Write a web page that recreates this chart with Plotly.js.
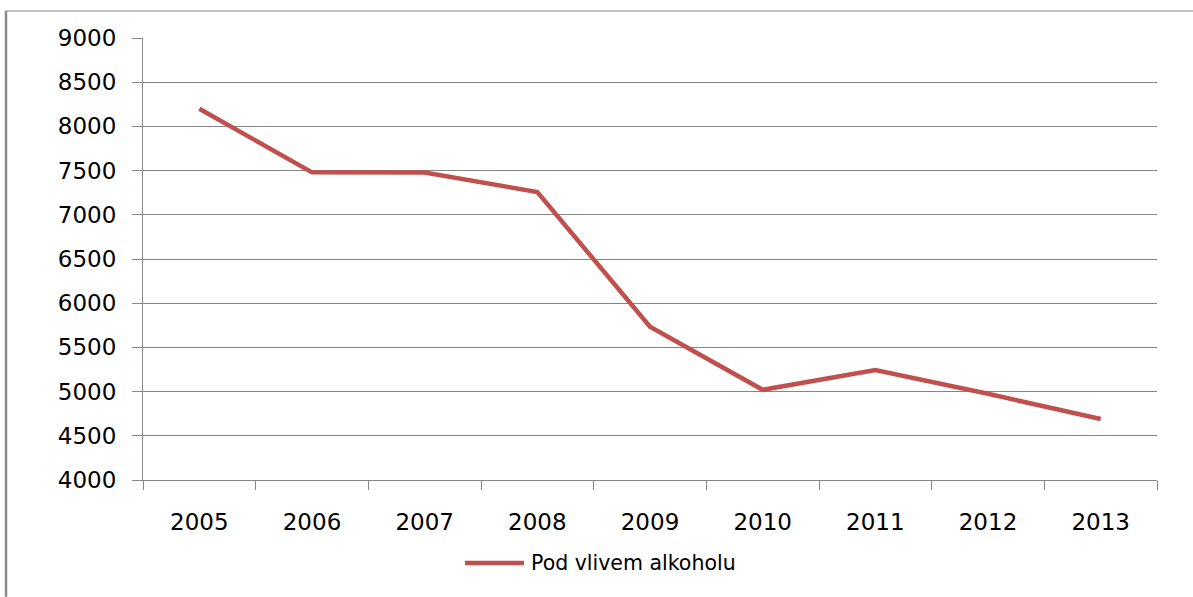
<!DOCTYPE html>
<html>
<head>
<meta charset="utf-8">
<script src="https://cdn.plot.ly/plotly-3.0.1.min.js"></script>
<style>
  html, body { margin: 0; padding: 0; background: #fff; }
  #chart { width: 1193px; height: 597px; }
</style>
</head>
<body>
<div id="chart"></div>
<script>
const years = ['2005', '2006', '2007', '2008', '2009', '2010', '2011', '2012', '2013'];
const values = [8200, 7480, 7478, 7258, 5735, 5020, 5245, 4975, 4690];
const seriesName = 'Pod vlivem alkoholu';
const yTicks = [4000, 4500, 5000, 5500, 6000, 6500, 7000, 7500, 8000, 8500, 9000];

const lineColor = '#C0504D';
const gridColor = '#868686';
const font = 'DejaVu Sans, Verdana, sans-serif';

// plot area geometry in pixels
const L = 143, R = 1157, T = 37.5, B = 480, W = 1193, H = 597;
const px = x => (x - L) / (R - L);
const py = y => (B - y) / (B - T);

const trace = {
  x: years,
  y: values,
  type: 'scatter',
  mode: 'lines',
  name: seriesName,
  line: { color: lineColor, width: 4.5 },
  hoverinfo: 'x+y'
};

const layout = {
  width: W,
  height: H,
  margin: { l: L, r: W - R, t: T, b: H - B, pad: 0 },
  paper_bgcolor: '#fff',
  plot_bgcolor: '#fff',
  showlegend: false,
  font: { family: font, size: 23, color: '#000' },
  xaxis: {
    type: 'category',
    categoryarray: years,
    range: [-0.5, years.length - 0.5],
    showgrid: false,
    zeroline: false,
    showline: true,
    linecolor: gridColor,
    linewidth: 1,
    ticks: 'outside',
    tickson: 'boundaries',
    ticklen: 9,
    tickwidth: 1,
    tickcolor: gridColor,
    ticklabelstandoff: 21,
    tickfont: { family: font, size: 23, color: '#000' },
    fixedrange: true
  },
  yaxis: {
    range: [4000, 9000],
    tickvals: yTicks,
    ticktext: yTicks.map(String),
    showgrid: true,
    gridcolor: gridColor,
    gridwidth: 1,
    zeroline: false,
    showline: true,
    linecolor: gridColor,
    linewidth: 1,
    ticks: 'outside',
    ticklen: 10,
    tickwidth: 1,
    tickcolor: gridColor,
    ticklabelstandoff: 11,
    tickfont: { family: font, size: 23, color: '#000' },
    fixedrange: true
  },
  shapes: [
    // outer frame: thick left border and thin top border
    { type: 'line', xref: 'paper', yref: 'paper', x0: px(6), x1: px(6), y0: py(10.5), y1: py(H),
      line: { color: '#8a8a8a', width: 2.5 } },
    { type: 'line', xref: 'paper', yref: 'paper', x0: px(5), x1: px(W), y0: py(10.5), y1: py(10.5),
      line: { color: '#8a8a8a', width: 1 } },
    // legend sample
    { type: 'line', xref: 'paper', yref: 'paper', x0: px(465), x1: px(524), y0: py(563), y1: py(563),
      line: { color: lineColor, width: 4.5 } }
  ],
  annotations: [
    { xref: 'paper', yref: 'paper', x: px(529), y: py(563), xanchor: 'left', yanchor: 'middle',
      text: seriesName, showarrow: false,
      font: { family: font, size: 20.5, color: '#000' } }
  ]
};

Plotly.newPlot('chart', [trace], layout, { displayModeBar: false, staticPlot: true });
</script>
</body>
</html>
